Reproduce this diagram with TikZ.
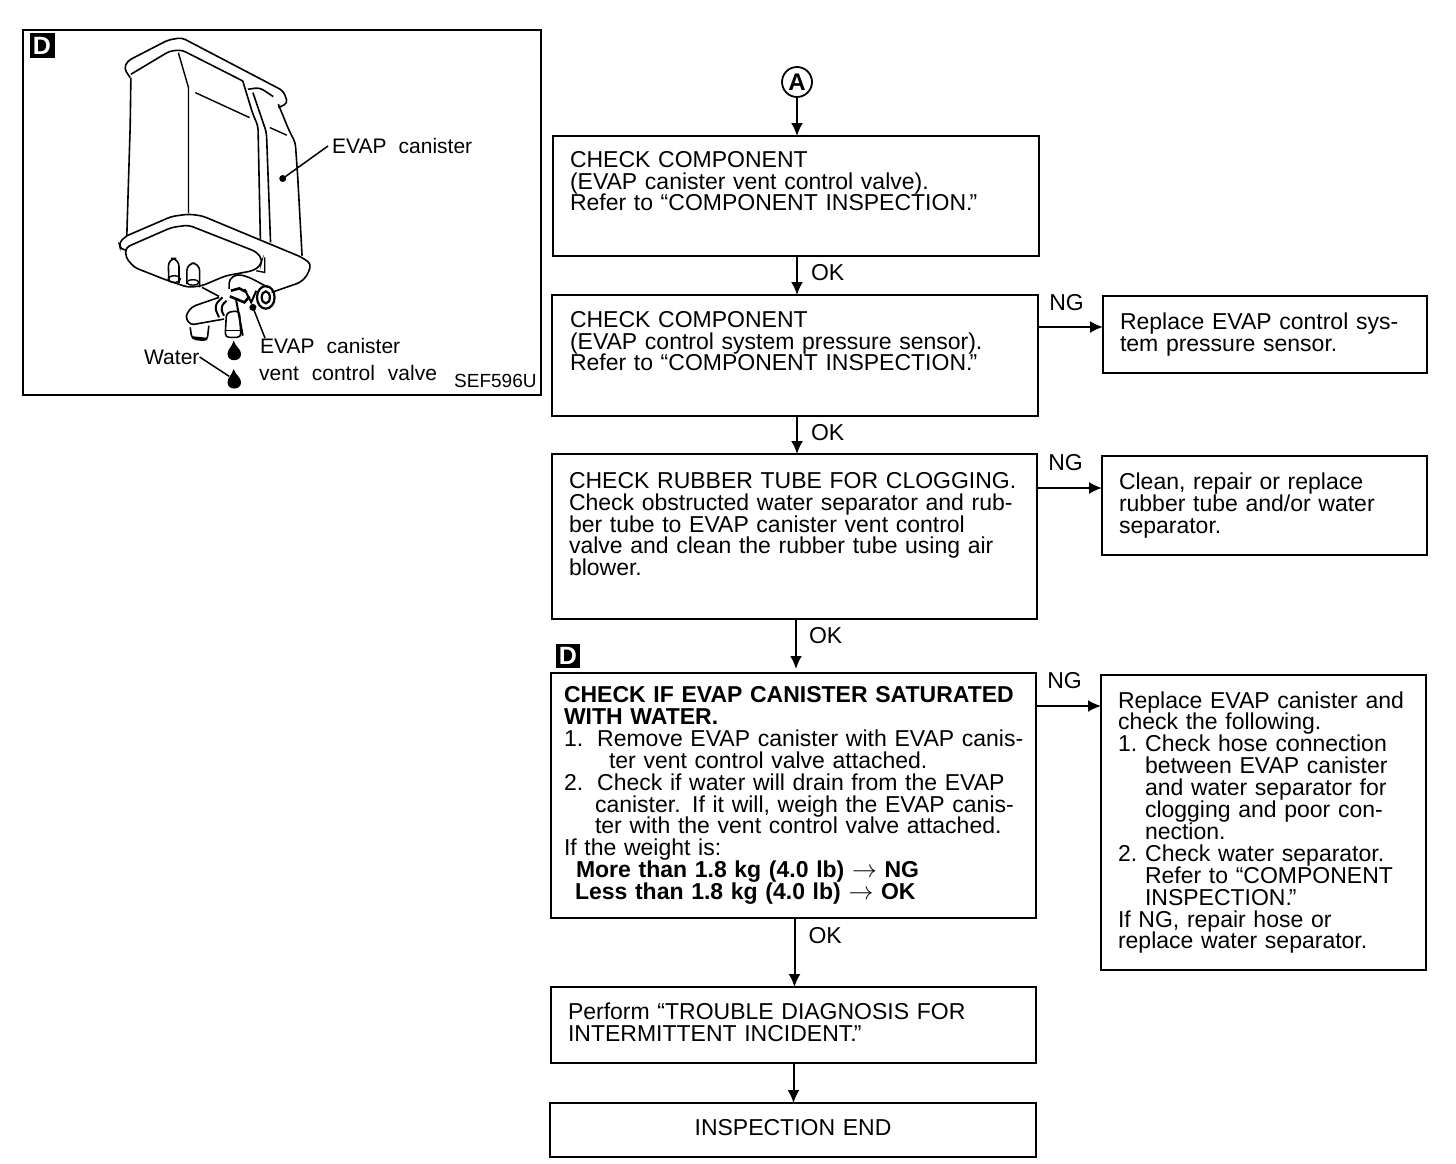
\documentclass[tikz,border=0pt]{standalone}
\usepackage{fontspec}
\setmainfont{Liberation Sans}
\usetikzlibrary{shapes,arrows.meta,positioning}
\newcommand{\pad}[1]{\\[#1pt]\mbox{}}
\begin{document}
\begin{tikzpicture}[x=1pt, y=-1pt]
    \tikzstyle{stepbox} = [draw, line width=1.8pt, rectangle, anchor=north west, outer sep=0pt, inner xsep=17pt, inner ysep=0pt, align=left, font=\fontsize{23}{21.9}\selectfont]
    \tikzstyle{l} = [draw, -{Latex[length=13pt,width=12pt]}, line width=2pt]
    \tikzstyle{lbl} = [font=\fontsize{23}{23}\selectfont, inner sep=0pt]
    \tikzstyle{fig} = [font=\fontsize{21}{21}\selectfont, inner sep=0pt, anchor=west]
    \tikzstyle{badge} = [fill=black, text=white, inner sep=0pt, minimum size=25pt, font=\fontsize{25}{25}\selectfont\bfseries]
    \tikzstyle{part} = [line width=1.6pt, rounded corners=4pt]
    \useasboundingbox (0,0) rectangle (1456,1164);

    \node [draw, line width=1.8pt, minimum width=518pt, minimum height=365pt, anchor=north west, outer sep=0pt] (figure) at (23,30) {};
    \node [badge] (figbadge) at (42,46) {D};

    \begin{scope}[x=0.339pt, y=-0.333pt, shift={(19pt,-26pt)}]
        \draw [part] (328,155) -- (310,128) -- (320,105) -- (440,42) -- (480,35) -- (780,195) -- (793,232) -- (765,245);
        \draw [part] (330,145) -- (445,75) -- (480,72) -- (660,165);
        \draw [part] (660,165) -- (690,265) -- (705,300) -- (712,640);
        \draw [part] (675,190) -- (710,185) -- (750,212);
        \draw [part] (690,200) -- (730,320) -- (742,650);
        \draw [line width=1.4pt] (470,80) -- (500,185) -- (500,562);
        \draw [line width=1.4pt] (520,200) -- (680,275);
        \draw [line width=1.4pt] (740,305) -- (790,328);
        \draw [part] (330,155) -- (328,300) -- (318,630);
        \draw [part] (765,235) -- (795,310) -- (815,350) -- (822,450) -- (835,690);
        \draw [part] (318,630) -- (295,650) -- (300,672) -- (315,672);
        \draw [part] (318,630) -- (450,572) -- (500,565) -- (540,570) -- (835,695) -- (862,715) -- (850,750) -- (830,770) -- (745,800);
        \draw [part] (315,665) -- (450,605) -- (500,598) -- (700,678) -- (717,700) -- (712,720) -- (690,735) -- (610,750) -- (540,780) -- (500,785) -- (440,765) -- (340,725) -- (315,695) -- cycle;
        \draw [line width=1.4pt] (725,695) -- (725,740) -- (700,735);
        \draw [part, rounded corners=8pt] (442,765) -- (440,698) -- (472,698) -- (472,772);
        \draw [part, rounded corners=8pt] (495,775) -- (495,712) -- (533,712) -- (533,785);
        \draw [line width=1.4pt] (458,760) ellipse (18 and 10);
        \draw [line width=1.4pt] (513,770) ellipse (18 and 8);
        \draw [part] (620,790) -- (620,760) -- (645,745) -- (680,755) -- (735,785);
        \draw [line width=2.2pt] (728,815) ellipse (26 and 34);
        \draw [line width=2.2pt] (728,815) ellipse (12 and 18);
        \draw [line width=2.6pt] (625,795) -- (650,788) -- (672,800);
        \draw [line width=2.6pt] (622,812) -- (665,830) -- (680,812);
        \draw [line width=2pt] (665,790) -- (685,830) -- (700,795);
        \draw [part] (540,785) -- (590,812);
        \draw [part] (590,815) -- (510,843) -- (490,872) -- (505,898) -- (605,880);
        \draw [line width=2pt, rounded corners=6pt] (600,815) -- (575,840) -- (590,875);
        \draw [line width=2pt, rounded corners=6pt] (612,825) -- (592,845) -- (605,870);
        \draw [part] (612,860) -- (608,935) -- (655,935) -- (650,855) -- cycle;
        \draw [line width=1.4pt] (608,915) -- (655,915);
        \draw [line width=2pt] (640,820) -- (660,930);
        \draw [part] (505,905) -- (510,940) -- (555,945) -- (560,900);
        \draw [line width=2.4pt] (510,935) -- (555,940);
        \foreach \d in {0,85}
            \fill (633,{945+\d}) .. controls (628,{965+\d}) and (615,{970+\d}) .. (615,{985+\d}) .. controls (615,{1010+\d}) and (655,{1010+\d}) .. (655,{985+\d}) .. controls (655,{970+\d}) and (640,{965+\d}) .. (633,{945+\d}) -- cycle;
        \coordinate (waterdrop) at (620,1052);
        \coordinate (canisterdot) at (778,458);
        \coordinate (valvedot) at (690,845);
    \end{scope}

    \node [fig] (canisterlbl) at (332,146) {EVAP\hspace{12pt}canister};
    \node [fig] (valvelbl) at (260,346) {EVAP\hspace{12pt}canister};
    \node [fig] (valvelbltwo) at (259,373) {vent\hspace{13pt}control\hspace{13pt}valve};
    \node [fig] (water) at (144,357) {Water};
    \node [fig, font=\fontsize{19}{19}\selectfont] (figcode) at (454,381) {SEF596U};
    \fill (canisterdot) circle (3.5pt);
    \fill (valvedot) circle (3.5pt);
    \draw [line width=1.5pt] (canisterlbl.west) ++(-4,0) -- (canisterdot);
    \draw [line width=1.5pt] (valvelbl.north west) ++(5,0) -- (valvedot);
    \draw [line width=1.5pt] (water.east) -- (waterdrop);

    \node [draw, circle, line width=1.8pt, minimum size=30pt, inner sep=0pt, font=\fontsize{24}{24}\selectfont\bfseries] (a) at (797,82) {A};

    \node [stepbox, text width=452pt, minimum height=120pt] (c1) at (553,136) {CHECK COMPONENT\\(EVAP canister vent control valve).\\Refer to “COMPONENT INSPECTION.\kern-3pt”\pad{8}};
    \node [stepbox, inner xsep=18pt, text width=450pt, minimum height=121pt] (c2) at (552,295) {CHECK COMPONENT\\(EVAP control system pressure sensor).\\Refer to “COMPONENT INSPECTION.\kern-3pt”\pad{7}};
    \node [stepbox, text width=451pt, minimum height=165pt] (c3) at (552,454) {CHECK RUBBER TUBE FOR CLOGGING.\\Check obstructed water separator and rub-\\ber tube to EVAP canister vent control\\valve and clean the rubber tube using air\\blower.\pad{3}};
    \node [stepbox, inner xsep=13pt, text width=459pt, minimum height=245pt] (c4) at (551,673) {\textbf{CHECK IF EVAP CANISTER SATURATED}\\\textbf{WITH WATER.}\\\mbox{1.\hspace{14pt}Remove EVAP canister with EVAP canis-}\\\hspace{45pt}ter vent control valve attached.\\2.\hspace{14pt}Check if water will drain from the EVAP\\\hspace{31pt}canister. If it will, weigh the EVAP canis-\\\hspace{31pt}ter with the vent control valve attached.\\If the weight is:\\\hspace{12pt}\textbf{More than 1.8 kg (4.0 lb) $\rightarrow$ NG}\\\hspace{11pt}\textbf{Less than 1.8 kg (4.0 lb) $\rightarrow$ OK}};
    \node [stepbox, text width=451pt, minimum height=76pt] (c5) at (551,987) {Perform “TROUBLE DIAGNOSIS FOR\\INTERMITTENT INCIDENT.\kern-3pt”\pad{-16}};
    \node [stepbox, text width=452pt, minimum height=54pt, align=center] (c6) at (550,1103) {INSPECTION END\pad{-16}};
    \node [stepbox, text width=290pt, minimum height=77pt] (r1) at (1103,296) {Replace EVAP control sys-\\tem pressure sensor.};
    \node [stepbox, text width=291pt, minimum height=99pt] (r2) at (1102,456) {Clean, repair or replace\\rubber tube and/or water\\separator.};
    \node [stepbox, text width=291pt, minimum height=295pt] (r3) at (1101,675) {Replace EVAP canister and\\check the following.\\1.\hspace{8pt}Check hose connection\\\hspace{27pt}between EVAP canister\\\hspace{27pt}and water separator for\\\hspace{27pt}clogging and poor con-\\\hspace{27pt}nection.\\2.\hspace{8pt}Check water separator.\\\hspace{27pt}Refer to “COMPONENT\\\hspace{27pt}INSPECTION.\kern-3pt”\\If NG, repair hose or\\replace water separator.};
    \node [badge, minimum size=24pt] (stepbadge) at (568,656) {D};

    \draw [l] (a) -- (a |- c1.north);
    \draw [l] (c1.south -| a) -- node[lbl, right=13pt, yshift=3pt]{OK} (c2.north -| a);
    \draw [l] (c2.south -| a) -- node[lbl, right=13pt, yshift=2pt]{OK} (c3.north -| a);
    \draw [l] ([xshift=1.5pt]c3.south) -- node[lbl, right=12pt, yshift=8pt]{OK} ([xshift=1.5pt,yshift=4pt]c3.south |- c4.north);
    \draw [l] ([xshift=1pt]c4.south) -- node[lbl, right=13pt, yshift=17pt]{OK} ([xshift=1pt]c4.south |- c5.north);
    \draw [l] (c5.south) -- (c5.south |- c6.north);
    \draw [l] ([yshift=-31pt]c2.north east |- r1.north) -- node[lbl, above=15pt, xshift=-4pt]{NG} ([yshift=-31pt]r1.north west);
    \draw [l] ([yshift=-32pt]c3.north east |- r2.north) -- node[lbl, above=16pt, xshift=-4pt]{NG} ([yshift=-32pt]r2.north west);
    \draw [l] ([yshift=-31pt]c4.north east |- r3.north) -- node[lbl, above=16pt, xshift=-4pt]{NG} ([yshift=-31pt]r3.north west);
\end{tikzpicture}
\end{document}
